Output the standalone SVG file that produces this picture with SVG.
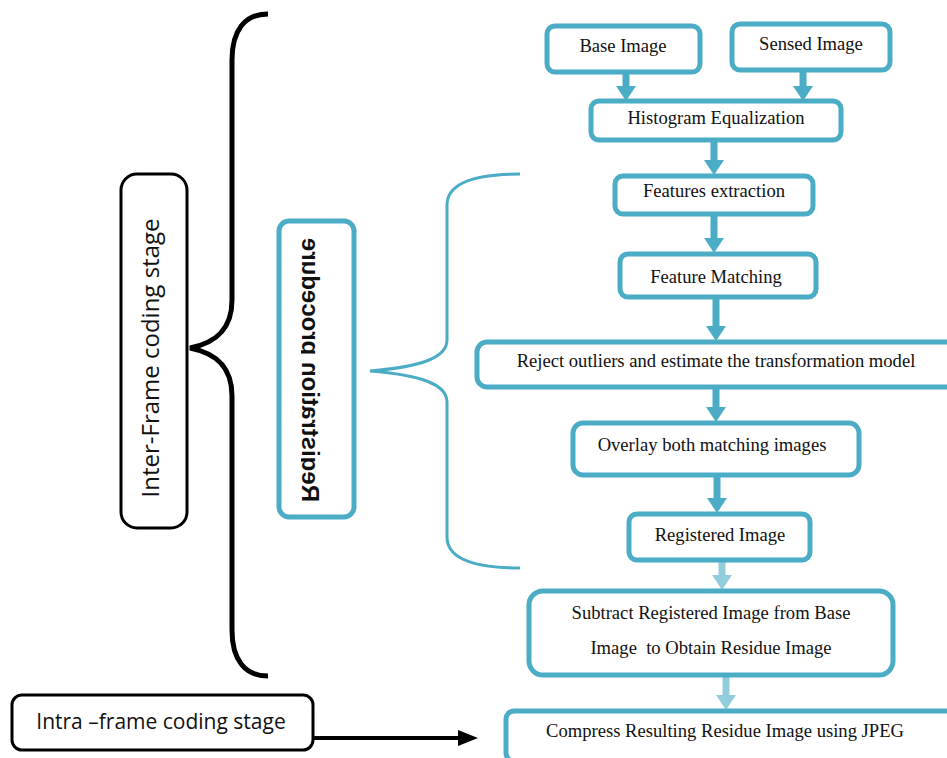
<svg xmlns="http://www.w3.org/2000/svg" width="947" height="758" viewBox="0 0 947 758">
<style>
.box{fill:#fff;stroke:#4BACC6;stroke-width:5}
.bbox{fill:#fff;stroke:#000;stroke-width:3}
.t{font-family:"Liberation Serif","Times New Roman",serif;font-size:18.6px;fill:#111;text-anchor:middle}
.s{font-family:"Open Sans","Liberation Sans",Arial,sans-serif;fill:#111}
.sh{stroke:#4BACC6;stroke-width:7;fill:none}
.shl{stroke:#92CDDC;stroke-width:7;fill:none}
</style>
<defs>
<clipPath id="regclip"><rect x="301" y="226" width="49" height="286"/></clipPath>
</defs>
<rect width="947" height="758" fill="#fff"/>

<g id="braces">
<path d="M268,14 C245,14 232,30 232,60 L232,300 C232,330 215,343 190,348 C215,353 232,366 232,396 L232,630 C232,660 245,676 268,676" fill="none" stroke="#000" stroke-width="5"/>
<path d="M520,174 C470,174 447,185 447,205 L447,340 C447,358 420,367 370,371 C420,375 447,384 447,402 L447,537 C447,557 470,568 520,568" fill="none" stroke="#4BACC6" stroke-width="3"/>
</g>

<g id="inter-frame">
<rect class="bbox" x="121" y="174" width="66" height="354" rx="16"/>
<text class="s" font-size="24" text-anchor="middle" transform="translate(159,358) rotate(-90)">Inter-Frame coding stage</text>
</g>

<g id="registration">
<rect class="box" x="279" y="221" width="75" height="296" rx="10"/>
<g clip-path="url(#regclip)">
<text font-family="Liberation Sans,Arial,sans-serif" font-weight="bold" font-size="24" fill="#111" text-anchor="middle" transform="translate(302,370) rotate(-90) scale(1,-1)">Registration procedure</text>
</g>
</g>

<g id="intra-frame">
<rect class="bbox" x="12" y="695" width="301" height="55" rx="10"/>
<text class="s" font-size="21" x="161" y="729" text-anchor="middle">Intra –frame coding stage</text>
</g>

<g id="connectors">
<line x1="313" y1="738" x2="460" y2="738" stroke="#000" stroke-width="4"/>
<polygon points="458,730 478,738 458,746" fill="#000"/>

<line class="sh" x1="626" y1="72" x2="626" y2="88"/>
<polygon points="616,86 636,86 626,101" fill="#4BACC6"/>
<line class="sh" x1="803" y1="70" x2="803" y2="88"/>
<polygon points="793,86 813,86 803,101" fill="#4BACC6"/>
<line class="sh" x1="714" y1="140" x2="714" y2="162"/>
<polygon points="704,160 724,160 714,175" fill="#4BACC6"/>
<line class="sh" x1="714" y1="214" x2="714" y2="240"/>
<polygon points="704,238 724,238 714,253" fill="#4BACC6"/>
<line class="sh" x1="716" y1="298" x2="716" y2="328"/>
<polygon points="706,326 726,326 716,341" fill="#4BACC6"/>
<line class="sh" x1="716" y1="388" x2="716" y2="409"/>
<polygon points="706,407 726,407 716,422" fill="#4BACC6"/>
<line class="sh" x1="717" y1="476" x2="717" y2="500"/>
<polygon points="707,498 727,498 717,513" fill="#4BACC6"/>
<line class="shl" x1="722" y1="560" x2="722" y2="577"/>
<polygon points="712,575 732,575 722,590" fill="#92CDDC"/>
<line class="shl" x1="726" y1="675" x2="726" y2="697"/>
<polygon points="716,695 736,695 726,710" fill="#92CDDC"/>
</g>

<g id="base-image">
<rect class="box" x="547" y="26" width="153" height="46" rx="8"/>
<text class="t" x="623" y="52">Base Image</text>
</g>
<g id="sensed-image">
<rect class="box" x="732" y="24" width="158" height="46" rx="8"/>
<text class="t" x="811" y="50">Sensed Image</text>
</g>
<g id="histogram">
<rect class="box" x="591" y="101" width="250" height="39" rx="8"/>
<text class="t" x="716" y="124">Histogram Equalization</text>
</g>
<g id="features-extraction">
<rect class="box" x="615" y="176" width="198" height="38" rx="8"/>
<text class="t" x="714" y="197">Features extraction</text>
</g>
<g id="feature-matching">
<rect class="box" x="620" y="254" width="196" height="43" rx="8"/>
<text class="t" x="716" y="283">Feature Matching</text>
</g>
<g id="reject-outliers">
<rect class="box" x="477" y="342" width="480" height="45" rx="10"/>
<text class="t" x="716" y="367">Reject outliers and estimate the transformation model</text>
</g>
<g id="overlay">
<rect class="box" x="573" y="423" width="286" height="52" rx="10"/>
<text class="t" x="712" y="451">Overlay both matching images</text>
</g>
<g id="registered-image">
<rect class="box" x="629" y="514" width="181" height="46" rx="8"/>
<text class="t" x="720" y="541">Registered Image</text>
</g>
<g id="subtract">
<rect class="box" x="529" y="591" width="364" height="84" rx="14"/>
<text class="t" x="711" y="619">Subtract Registered Image from Base</text>
<text class="t" x="711" y="654" xml:space="preserve">Image  to Obtain Residue Image</text>
</g>
<g id="compress">
<rect class="box" x="506" y="711" width="460" height="50" rx="8"/>
<text class="t" x="725" y="737">Compress Resulting Residue Image using JPEG</text>
</g>
</svg>
